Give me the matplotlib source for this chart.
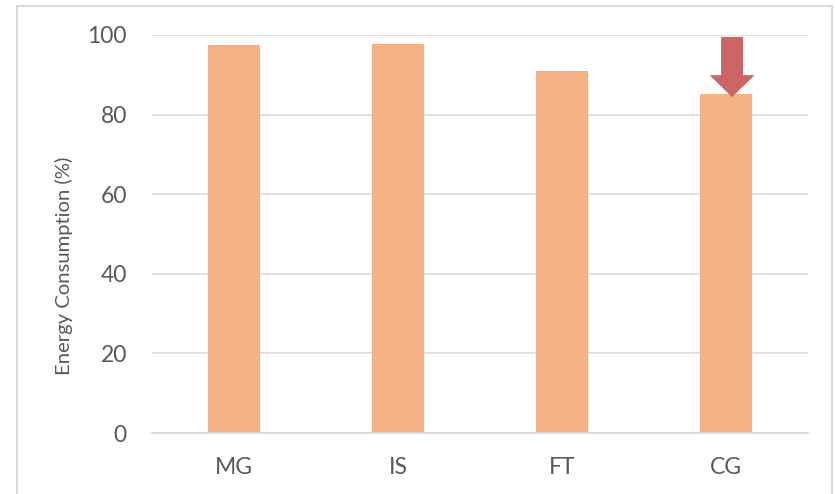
import matplotlib.pyplot as plt
from matplotlib.patches import FancyArrow, Rectangle

plt.rcParams['font.family'] = ['Lato', 'DejaVu Sans']

categories = ['MG', 'IS', 'FT', 'CG']
energy = [97.5, 97.8, 90.9, 85.2]
yticks = [0, 20, 40, 60, 80, 100]

bar_color = '#F4B183'
arrow_color = '#CD6566'
text_color = '#595959'
grid_color = '#D9D9D9'

fig = plt.figure(figsize=(8.35, 4.94), dpi=100)
ax = fig.add_axes([152/835, 1 - 433/494, 656/835, 398/494])

x = range(len(categories))
ax.bar(x, energy, width=0.32, color=bar_color, zorder=2)

ax.set_xlim(-0.5, len(categories) - 0.5)
ax.set_ylim(0, 100)
ax.set_yticks(yticks)
ax.set_xticks(list(x))
ax.set_xticklabels(categories)
ax.yaxis.grid(True, color=grid_color, linewidth=1.2, zorder=0)
ax.set_axisbelow(True)
for side in ['top', 'right', 'left']:
    ax.spines[side].set_visible(False)
ax.spines['bottom'].set_color(grid_color)
ax.spines['bottom'].set_linewidth(1.2)
ax.tick_params(axis='both', length=0, labelsize=16.5, colors=text_color)
ax.tick_params(axis='y', pad=18)
ax.tick_params(axis='x', pad=17)
ax.set_ylabel('Energy Consumption (%)', fontsize=14.6, color=text_color)
ax.yaxis.set_label_coords(-0.121, 0.42)

# arrow pointing at the CG bar
arr = FancyArrow(3.037, 99.5, 0, -15.1, width=0.134, head_width=0.274,
                 head_length=5.5, length_includes_head=True,
                 color=arrow_color, linewidth=0, zorder=3)
ax.add_patch(arr)

fig.patches.append(Rectangle((17/835, -0.01), 815/835, 1 - 6/494 + 0.01,
                             transform=fig.transFigure, fill=False,
                             edgecolor=grid_color, linewidth=1.5))

fig.savefig('out.png', dpi=100)
